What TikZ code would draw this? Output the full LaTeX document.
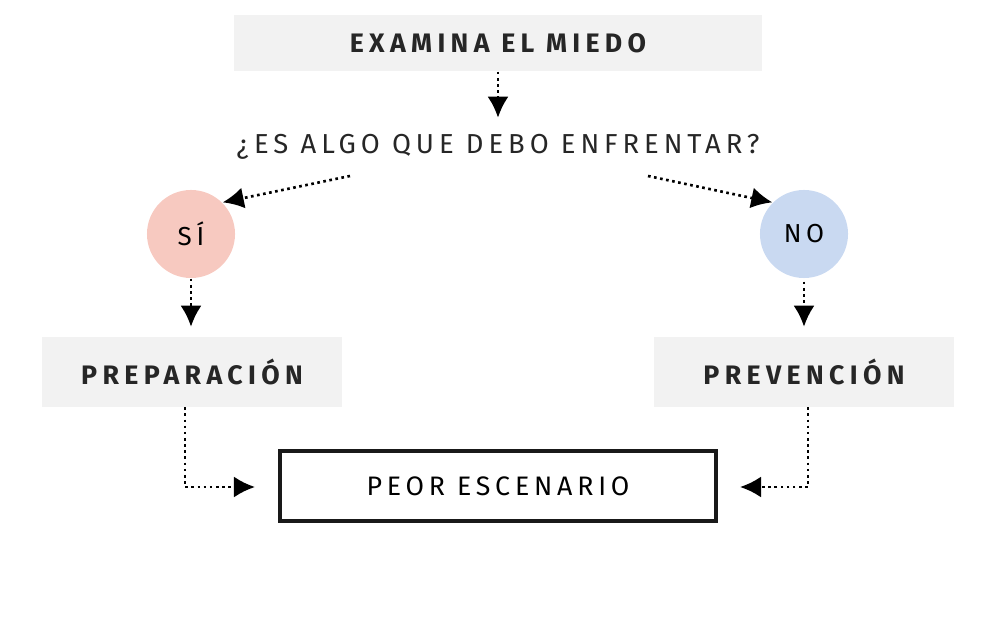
\documentclass[tikz,border=0pt]{standalone}
\usepackage{fontspec}
\setmainfont{Fira Sans}
\newfontfamily\spc[LetterSpace=18]{Fira Sans}
\newfontfamily\spcb[LetterSpace=20]{Fira Sans Bold}
\usetikzlibrary{arrows.meta}
\definecolor{boxgray}{HTML}{F2F2F2}
\definecolor{sipink}{HTML}{F7C9C0}
\definecolor{noblue}{HTML}{C9D9F1}
\begin{document}
\begin{tikzpicture}[x=0.01cm,y=-0.01cm,
  gbox/.style={fill=boxgray,draw=none,minimum width=#1,minimum height=0.69cm,font=\spcb\fontsize{7.6}{9}\selectfont,text=black!85},
  circ/.style={circle,minimum size=0.88cm,inner sep=0,font=\spc\fontsize{7.4}{9}\selectfont},
  arr/.style={densely dotted,line width=0.75pt,-{Latex[length=6pt,width=6pt]}}]
\useasboundingbox (0,0) rectangle (1000,637);
\node[gbox=5.27cm,minimum height=0.56cm] (top) at (498,43) {EXAMINA EL MIEDO};
\node[font=\spc\fontsize{7.8}{10}\selectfont,text=black!85] (q) at (498,147) {¿ES ALGO QUE DEBO ENFRENTAR?};
\node[circ,fill=sipink] (si) at (191,234) {SÍ};
\node[circ,fill=noblue] (no) at (804,234) {NO};
\node[gbox=3cm] (prep) at (192,372) {PREPARACIÓN};
\node[gbox=3cm] (prev) at (804,372) {PREVENCIÓN};
\node[draw=black!90,line width=1.3pt,minimum width=4.36cm,minimum height=0.7cm,font=\spc\fontsize{7.6}{10}\selectfont] (peor) at (498,486) {PEOR ESCENARIO};
\coordinate (q1) at (350,176);
\coordinate (q2) at (648,176);
\coordinate (pl) at (255,487);
\coordinate (pr) at (740,487);
\draw[arr] (top.south) -- ++(0,46);
\draw[arr] (q1) -- (si.north east);
\draw[arr] (q2) -- (no.north west);
\draw[arr] (si.south) -- ++(0,48);
\draw[arr] (no.south) ++(0,3) -- ++(0,45);
\draw[arr] (prep.south -| 185,0) -- (185,487) -- (pl);
\draw[arr] (prev.south -| 808,0) -- (808,487) -- (pr);
\end{tikzpicture}
\end{document}
